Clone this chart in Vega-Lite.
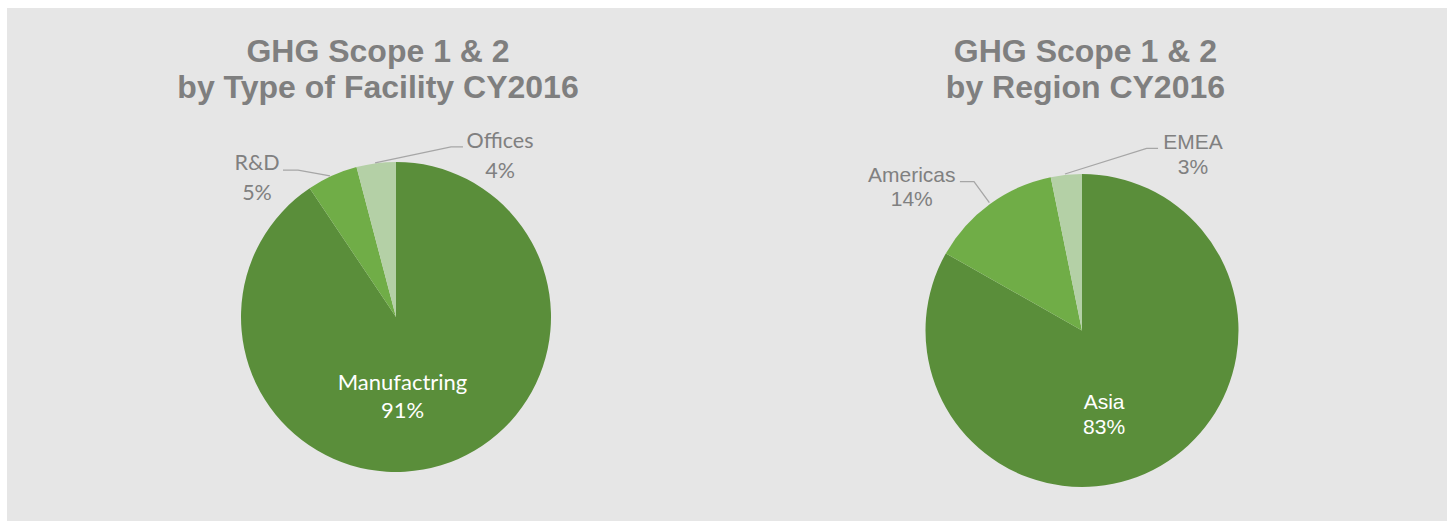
{
  "$schema": "https://vega.github.io/schema/vega-lite/v6.json",
  "background": "white",
  "padding": {"left": 7, "top": 8, "right": 3, "bottom": 1},
  "spacing": 0,
  "config": {"view": {"fill": "#e6e6e6", "stroke": null}},
  "datasets": {
    "facility": [
      {"category": "Manufactring", "value": 90.6, "ord": 1},
      {"category": "R&D", "value": 5.3, "ord": 2},
      {"category": "Offices", "value": 4.1, "ord": 3}
    ],
    "facilityLabels": [
      {"category": "Manufactring", "lx": 0.042, "ly": -0.471},
      {"category": "R&D", "lx": -0.897, "ly": 0.948},
      {"category": "Offices", "lx": 0.671, "ly": 1.09}
    ],
    "facilityLeaders": [
      {"seg": "R&D", "i": 1, "x": -0.729, "y": 0.948},
      {"seg": "R&D", "i": 2, "x": -0.632, "y": 0.948},
      {"seg": "R&D", "i": 3, "x": -0.426, "y": 0.91},
      {"seg": "Offices", "i": 1, "x": -0.135, "y": 0.994},
      {"seg": "Offices", "i": 2, "x": 0.355, "y": 1.097},
      {"seg": "Offices", "i": 3, "x": 0.432, "y": 1.097}
    ],
    "region": [
      {"category": "Asia", "value": 83.2, "ord": 1},
      {"category": "Americas", "value": 13.6, "ord": 2},
      {"category": "EMEA", "value": 3.2, "ord": 3}
    ],
    "regionLabels": [
      {"category": "Asia", "lx": 0.141, "ly": -0.502},
      {"category": "Americas", "lx": -1.088, "ly": 0.951},
      {"category": "EMEA", "lx": 0.709, "ly": 1.158}
    ],
    "regionLeaders": [
      {"seg": "EMEA", "i": 1, "x": -0.109, "y": 1.0},
      {"seg": "EMEA", "i": 2, "x": 0.413, "y": 1.164},
      {"seg": "EMEA", "i": 3, "x": 0.486, "y": 1.164},
      {"seg": "Americas", "i": 1, "x": -0.78, "y": 0.951},
      {"seg": "Americas", "i": 2, "x": -0.69, "y": 0.951},
      {"seg": "Americas", "i": 3, "x": -0.592, "y": 0.817}
    ],
    "one": [{"k": 1}]
  },
  "hconcat": [
    {
      "width": 721,
      "height": 513,
      "layer": [
        {
          "data": {"name": "facility"},
          "transform": [
            {"window": [{"op": "sum", "field": "value", "as": "t1"}], "sort": [{"field": "ord"}], "frame": [null, 0]},
            {"calculate": "datum.t1 - datum.value", "as": "t0"}
          ],
          "mark": {"type": "arc", "outerRadius": 155},
          "encoding": {
            "x": {"datum": 0, "type": "quantitative", "scale": {"domain": [-2.5097, 2.1419], "nice": false, "zero": false}, "axis": null},
            "y": {"datum": 0, "type": "quantitative", "scale": {"domain": [-1.3161, 1.9935], "nice": false, "zero": false}, "axis": null},
            "theta": {"field": "t0", "type": "quantitative", "scale": {"domain": [0, 100], "range": [0, 6.283185307]}},
            "theta2": {"field": "t1"},
            "color": {"field": "category", "type": "nominal", "scale": {"domain": ["Manufactring", "R&D", "Offices"], "range": ["#5a8e3a", "#70ad47", "#b4d0a6"]}, "legend": null}
          }
        },
        {
          "data": {"name": "facilityLeaders"},
          "mark": {"type": "line", "color": "#a6a6a6", "strokeWidth": 1.3},
          "encoding": {
            "x": {"field": "x", "type": "quantitative"},
            "y": {"field": "y", "type": "quantitative"},
            "detail": {"field": "seg", "type": "nominal"},
            "order": {"field": "i", "type": "quantitative"}
          }
        },
        {
          "data": {"name": "facilityLabels"},
          "transform": [
            {"lookup": "category", "from": {"data": {"name": "facility"}, "key": "category", "fields": ["value"]}},
            {"calculate": "datum.category + '\\n' + format(datum.value, '.0f') + '%'", "as": "txt"},
            {"filter": "datum.category !== 'Manufactring'"}
          ],
          "mark": {"type": "text", "font": "Lato", "fontSize": 21.5, "color": "#808080", "align": "center", "baseline": "alphabetic", "lineBreak": "\n", "lineHeight": 29.5},
          "encoding": {
            "x": {"field": "lx", "type": "quantitative"},
            "y": {"field": "ly", "type": "quantitative"},
            "text": {"field": "txt", "type": "nominal"}
          }
        },
        {
          "data": {"name": "facilityLabels"},
          "transform": [
            {"lookup": "category", "from": {"data": {"name": "facility"}, "key": "category", "fields": ["value"]}},
            {"calculate": "datum.category + '\\n' + format(datum.value, '.0f') + '%'", "as": "txt"},
            {"filter": "datum.category === 'Manufactring'"}
          ],
          "mark": {"type": "text", "font": "Lato", "fontSize": 22, "color": "white", "align": "center", "baseline": "alphabetic", "lineBreak": "\n", "lineHeight": 28},
          "encoding": {
            "x": {"field": "lx", "type": "quantitative"},
            "y": {"field": "ly", "type": "quantitative"},
            "text": {"field": "txt", "type": "nominal"}
          }
        },
        {
          "data": {"name": "one"},
          "mark": {"type": "text", "font": "Liberation Sans", "fontSize": 32, "fontWeight": "bold", "color": "#7f7f7f", "align": "center", "baseline": "alphabetic", "lineHeight": 36.6},
          "encoding": {
            "x": {"datum": -0.116, "type": "quantitative"},
            "y": {"datum": 1.647, "type": "quantitative"},
            "text": {"value": ["GHG Scope 1 & 2", "by Type of Facility CY2016"]}
          }
        }
      ]
    },
    {
      "width": 719,
      "height": 513,
      "layer": [
        {
          "data": {"name": "region"},
          "transform": [
            {"window": [{"op": "sum", "field": "value", "as": "t1"}], "sort": [{"field": "ord"}], "frame": [null, 0]},
            {"calculate": "datum.t1 - datum.value", "as": "t0"}
          ],
          "mark": {"type": "arc", "outerRadius": 156.5},
          "encoding": {
            "x": {"datum": 0, "type": "quantitative", "scale": {"domain": [-2.262, 2.3323], "nice": false, "zero": false}, "axis": null},
            "y": {"datum": 0, "type": "quantitative", "scale": {"domain": [-1.2173, 2.0607], "nice": false, "zero": false}, "axis": null},
            "theta": {"field": "t0", "type": "quantitative", "scale": {"domain": [0, 100], "range": [0, 6.283185307]}},
            "theta2": {"field": "t1"},
            "color": {"field": "category", "type": "nominal", "scale": {"domain": ["Asia", "Americas", "EMEA"], "range": ["#5a8e3a", "#70ad47", "#b4d0a6"]}, "legend": null}
          }
        },
        {
          "data": {"name": "regionLeaders"},
          "mark": {"type": "line", "color": "#a6a6a6", "strokeWidth": 1.3},
          "encoding": {
            "x": {"field": "x", "type": "quantitative"},
            "y": {"field": "y", "type": "quantitative"},
            "detail": {"field": "seg", "type": "nominal"},
            "order": {"field": "i", "type": "quantitative"}
          }
        },
        {
          "data": {"name": "regionLabels"},
          "transform": [
            {"lookup": "category", "from": {"data": {"name": "region"}, "key": "category", "fields": ["value"]}},
            {"calculate": "datum.category + '\\n' + format(datum.value, '.0f') + '%'", "as": "txt"},
            {"filter": "datum.category !== 'Asia'"}
          ],
          "mark": {"type": "text", "font": "Liberation Sans", "fontSize": 21, "color": "#808080", "align": "center", "baseline": "alphabetic", "lineBreak": "\n", "lineHeight": 24.5},
          "encoding": {
            "x": {"field": "lx", "type": "quantitative"},
            "y": {"field": "ly", "type": "quantitative"},
            "text": {"field": "txt", "type": "nominal"}
          }
        },
        {
          "data": {"name": "regionLabels"},
          "transform": [
            {"lookup": "category", "from": {"data": {"name": "region"}, "key": "category", "fields": ["value"]}},
            {"calculate": "datum.category + '\\n' + format(datum.value, '.0f') + '%'", "as": "txt"},
            {"filter": "datum.category === 'Asia'"}
          ],
          "mark": {"type": "text", "font": "Liberation Sans", "fontSize": 21, "color": "white", "align": "center", "baseline": "alphabetic", "lineBreak": "\n", "lineHeight": 25},
          "encoding": {
            "x": {"field": "lx", "type": "quantitative"},
            "y": {"field": "ly", "type": "quantitative"},
            "text": {"field": "txt", "type": "nominal"}
          }
        },
        {
          "data": {"name": "one"},
          "mark": {"type": "text", "font": "Liberation Sans", "fontSize": 32, "fontWeight": "bold", "color": "#7f7f7f", "align": "center", "baseline": "alphabetic", "lineHeight": 36.6},
          "encoding": {
            "x": {"datum": 0.022, "type": "quantitative"},
            "y": {"datum": 1.718, "type": "quantitative"},
            "text": {"value": ["GHG Scope 1 & 2", "by Region CY2016"]}
          }
        }
      ]
    }
  ]
}
